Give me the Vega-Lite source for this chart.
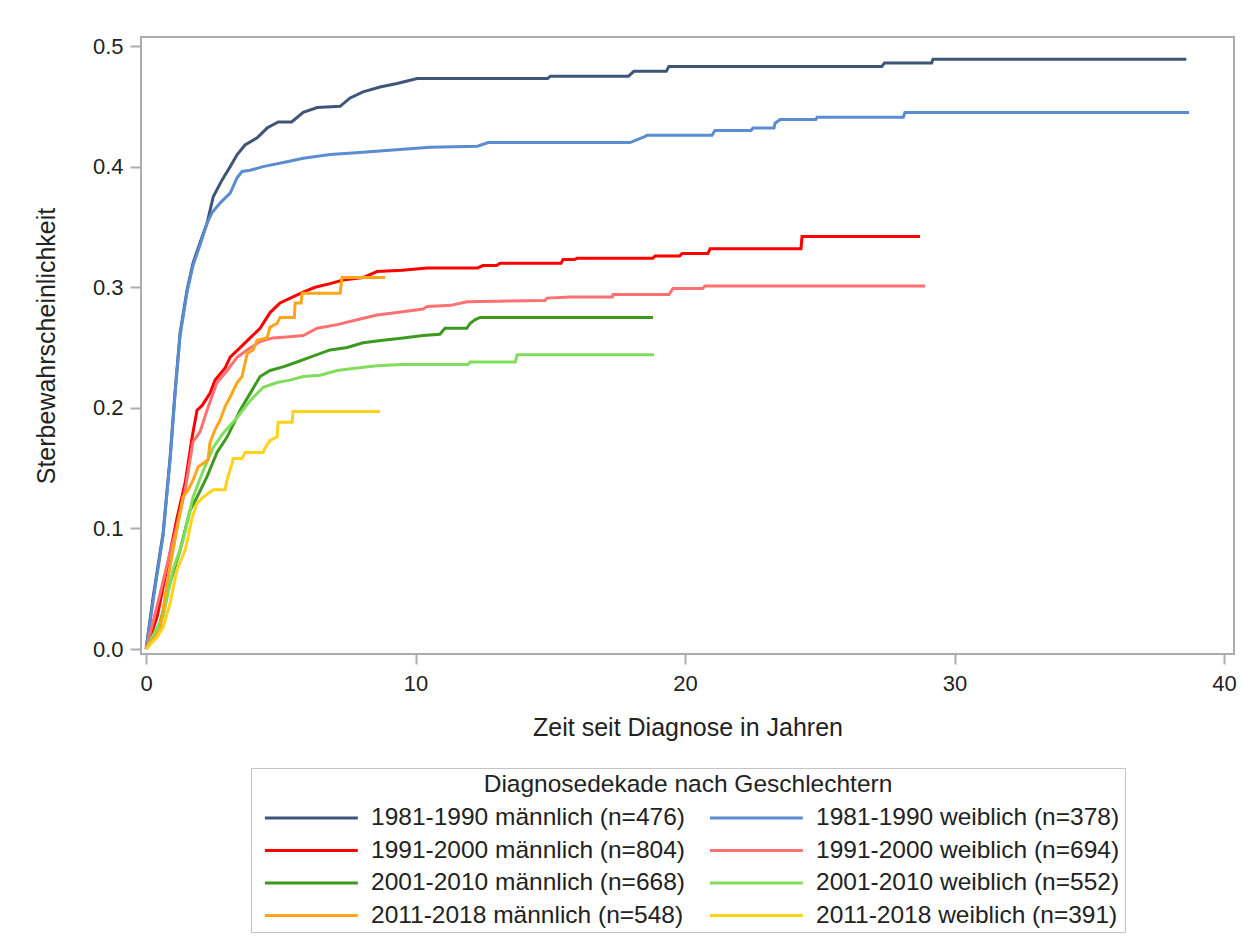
{
  "$schema": "https://vega.github.io/schema/vega-lite/v6.json",
  "autosize": {"type": "none"},
  "width": 1093,
  "height": 617,
  "padding": {"left": 141, "top": 37, "right": 14, "bottom": 286},
  "background": "white",
  "config": {
    "font": "Liberation Sans",
    "view": {"stroke": "#A9ADB2", "strokeWidth": 2},
    "legend": {"layout": {"bottom": {"anchor": "middle"}}}
  },
  "datasets": {
    "kurven": [
      {"g": "1981-1990 männlich (n=476)", "t": 0, "p": 0},
      {"g": "1981-1990 männlich (n=476)", "t": 0.26, "p": 0.043},
      {"g": "1981-1990 männlich (n=476)", "t": 0.63, "p": 0.096},
      {"g": "1981-1990 männlich (n=476)", "t": 0.89, "p": 0.159},
      {"g": "1981-1990 männlich (n=476)", "t": 1.08, "p": 0.215},
      {"g": "1981-1990 männlich (n=476)", "t": 1.26, "p": 0.262},
      {"g": "1981-1990 männlich (n=476)", "t": 1.52, "p": 0.298},
      {"g": "1981-1990 männlich (n=476)", "t": 1.74, "p": 0.32},
      {"g": "1981-1990 männlich (n=476)", "t": 2.0, "p": 0.337},
      {"g": "1981-1990 männlich (n=476)", "t": 2.26, "p": 0.353},
      {"g": "1981-1990 männlich (n=476)", "t": 2.49, "p": 0.375},
      {"g": "1981-1990 männlich (n=476)", "t": 2.82, "p": 0.389},
      {"g": "1981-1990 männlich (n=476)", "t": 3.12, "p": 0.4},
      {"g": "1981-1990 männlich (n=476)", "t": 3.38, "p": 0.41},
      {"g": "1981-1990 männlich (n=476)", "t": 3.67, "p": 0.418},
      {"g": "1981-1990 männlich (n=476)", "t": 4.12, "p": 0.424},
      {"g": "1981-1990 männlich (n=476)", "t": 4.49, "p": 0.432},
      {"g": "1981-1990 männlich (n=476)", "t": 4.9, "p": 0.437},
      {"g": "1981-1990 männlich (n=476)", "t": 5.4, "p": 0.437},
      {"g": "1981-1990 männlich (n=476)", "t": 5.83, "p": 0.445},
      {"g": "1981-1990 männlich (n=476)", "t": 6.35, "p": 0.449},
      {"g": "1981-1990 männlich (n=476)", "t": 7.2, "p": 0.45},
      {"g": "1981-1990 männlich (n=476)", "t": 7.57, "p": 0.457},
      {"g": "1981-1990 männlich (n=476)", "t": 8.05, "p": 0.462},
      {"g": "1981-1990 männlich (n=476)", "t": 8.68, "p": 0.466},
      {"g": "1981-1990 männlich (n=476)", "t": 9.31, "p": 0.469},
      {"g": "1981-1990 männlich (n=476)", "t": 10.06, "p": 0.473},
      {"g": "1981-1990 männlich (n=476)", "t": 14.9, "p": 0.473},
      {"g": "1981-1990 männlich (n=476)", "t": 15.0, "p": 0.475},
      {"g": "1981-1990 männlich (n=476)", "t": 17.9, "p": 0.475},
      {"g": "1981-1990 männlich (n=476)", "t": 18.1, "p": 0.479},
      {"g": "1981-1990 männlich (n=476)", "t": 19.3, "p": 0.479},
      {"g": "1981-1990 männlich (n=476)", "t": 19.4, "p": 0.483},
      {"g": "1981-1990 männlich (n=476)", "t": 27.3, "p": 0.483},
      {"g": "1981-1990 männlich (n=476)", "t": 27.4, "p": 0.486},
      {"g": "1981-1990 männlich (n=476)", "t": 29.15, "p": 0.486},
      {"g": "1981-1990 männlich (n=476)", "t": 29.2, "p": 0.489},
      {"g": "1981-1990 männlich (n=476)", "t": 38.6, "p": 0.489},

      {"g": "1981-1990 weiblich (n=378)", "t": 0, "p": 0},
      {"g": "1981-1990 weiblich (n=378)", "t": 0.26, "p": 0.04},
      {"g": "1981-1990 weiblich (n=378)", "t": 0.63, "p": 0.094},
      {"g": "1981-1990 weiblich (n=378)", "t": 0.89, "p": 0.157},
      {"g": "1981-1990 weiblich (n=378)", "t": 1.08, "p": 0.213},
      {"g": "1981-1990 weiblich (n=378)", "t": 1.26, "p": 0.26},
      {"g": "1981-1990 weiblich (n=378)", "t": 1.52, "p": 0.296},
      {"g": "1981-1990 weiblich (n=378)", "t": 1.74, "p": 0.318},
      {"g": "1981-1990 weiblich (n=378)", "t": 2.0, "p": 0.335},
      {"g": "1981-1990 weiblich (n=378)", "t": 2.26, "p": 0.353},
      {"g": "1981-1990 weiblich (n=378)", "t": 2.45, "p": 0.362},
      {"g": "1981-1990 weiblich (n=378)", "t": 2.75, "p": 0.37},
      {"g": "1981-1990 weiblich (n=378)", "t": 3.12, "p": 0.378},
      {"g": "1981-1990 weiblich (n=378)", "t": 3.38, "p": 0.391},
      {"g": "1981-1990 weiblich (n=378)", "t": 3.56, "p": 0.396},
      {"g": "1981-1990 weiblich (n=378)", "t": 3.86, "p": 0.397},
      {"g": "1981-1990 weiblich (n=378)", "t": 4.34, "p": 0.4},
      {"g": "1981-1990 weiblich (n=378)", "t": 5.23, "p": 0.404},
      {"g": "1981-1990 weiblich (n=378)", "t": 5.83, "p": 0.407},
      {"g": "1981-1990 weiblich (n=378)", "t": 6.83, "p": 0.41},
      {"g": "1981-1990 weiblich (n=378)", "t": 8.05, "p": 0.412},
      {"g": "1981-1990 weiblich (n=378)", "t": 9.91, "p": 0.415},
      {"g": "1981-1990 weiblich (n=378)", "t": 10.54, "p": 0.416},
      {"g": "1981-1990 weiblich (n=378)", "t": 12.3, "p": 0.417},
      {"g": "1981-1990 weiblich (n=378)", "t": 12.69, "p": 0.42},
      {"g": "1981-1990 weiblich (n=378)", "t": 17.96, "p": 0.42},
      {"g": "1981-1990 weiblich (n=378)", "t": 18.52, "p": 0.425},
      {"g": "1981-1990 weiblich (n=378)", "t": 18.59, "p": 0.426},
      {"g": "1981-1990 weiblich (n=378)", "t": 21.0, "p": 0.426},
      {"g": "1981-1990 weiblich (n=378)", "t": 21.11, "p": 0.43},
      {"g": "1981-1990 weiblich (n=378)", "t": 22.45, "p": 0.43},
      {"g": "1981-1990 weiblich (n=378)", "t": 22.52, "p": 0.432},
      {"g": "1981-1990 weiblich (n=378)", "t": 23.3, "p": 0.432},
      {"g": "1981-1990 weiblich (n=378)", "t": 23.34, "p": 0.436},
      {"g": "1981-1990 weiblich (n=378)", "t": 23.53, "p": 0.439},
      {"g": "1981-1990 weiblich (n=378)", "t": 24.85, "p": 0.439},
      {"g": "1981-1990 weiblich (n=378)", "t": 24.9, "p": 0.441},
      {"g": "1981-1990 weiblich (n=378)", "t": 28.1, "p": 0.441},
      {"g": "1981-1990 weiblich (n=378)", "t": 28.16, "p": 0.445},
      {"g": "1981-1990 weiblich (n=378)", "t": 38.7, "p": 0.445},

      {"g": "1991-2000 männlich (n=804)", "t": 0, "p": 0},
      {"g": "1991-2000 männlich (n=804)", "t": 0.41, "p": 0.027},
      {"g": "1991-2000 männlich (n=804)", "t": 0.78, "p": 0.068},
      {"g": "1991-2000 männlich (n=804)", "t": 1.15, "p": 0.109},
      {"g": "1991-2000 männlich (n=804)", "t": 1.45, "p": 0.138},
      {"g": "1991-2000 männlich (n=804)", "t": 1.71, "p": 0.176},
      {"g": "1991-2000 männlich (n=804)", "t": 1.89, "p": 0.198},
      {"g": "1991-2000 männlich (n=804)", "t": 2.08, "p": 0.202},
      {"g": "1991-2000 männlich (n=804)", "t": 2.37, "p": 0.212},
      {"g": "1991-2000 männlich (n=804)", "t": 2.56, "p": 0.223},
      {"g": "1991-2000 männlich (n=804)", "t": 2.93, "p": 0.233},
      {"g": "1991-2000 männlich (n=804)", "t": 3.12, "p": 0.242},
      {"g": "1991-2000 männlich (n=804)", "t": 3.49, "p": 0.25},
      {"g": "1991-2000 männlich (n=804)", "t": 3.86, "p": 0.258},
      {"g": "1991-2000 männlich (n=804)", "t": 4.23, "p": 0.266},
      {"g": "1991-2000 männlich (n=804)", "t": 4.6, "p": 0.279},
      {"g": "1991-2000 männlich (n=804)", "t": 4.97, "p": 0.287},
      {"g": "1991-2000 männlich (n=804)", "t": 5.45, "p": 0.292},
      {"g": "1991-2000 männlich (n=804)", "t": 5.83, "p": 0.296},
      {"g": "1991-2000 männlich (n=804)", "t": 6.27, "p": 0.3},
      {"g": "1991-2000 männlich (n=804)", "t": 6.83, "p": 0.303},
      {"g": "1991-2000 männlich (n=804)", "t": 7.31, "p": 0.306},
      {"g": "1991-2000 männlich (n=804)", "t": 8.05, "p": 0.308},
      {"g": "1991-2000 männlich (n=804)", "t": 8.57, "p": 0.313},
      {"g": "1991-2000 männlich (n=804)", "t": 9.5, "p": 0.314},
      {"g": "1991-2000 männlich (n=804)", "t": 10.43, "p": 0.316},
      {"g": "1991-2000 männlich (n=804)", "t": 12.3, "p": 0.316},
      {"g": "1991-2000 männlich (n=804)", "t": 12.5, "p": 0.318},
      {"g": "1991-2000 männlich (n=804)", "t": 13.0, "p": 0.318},
      {"g": "1991-2000 männlich (n=804)", "t": 13.14, "p": 0.32},
      {"g": "1991-2000 männlich (n=804)", "t": 15.4, "p": 0.32},
      {"g": "1991-2000 männlich (n=804)", "t": 15.47, "p": 0.323},
      {"g": "1991-2000 männlich (n=804)", "t": 15.9, "p": 0.323},
      {"g": "1991-2000 männlich (n=804)", "t": 15.99, "p": 0.324},
      {"g": "1991-2000 männlich (n=804)", "t": 18.8, "p": 0.324},
      {"g": "1991-2000 männlich (n=804)", "t": 18.89, "p": 0.326},
      {"g": "1991-2000 männlich (n=804)", "t": 19.8, "p": 0.326},
      {"g": "1991-2000 männlich (n=804)", "t": 19.89, "p": 0.328},
      {"g": "1991-2000 männlich (n=804)", "t": 20.85, "p": 0.328},
      {"g": "1991-2000 männlich (n=804)", "t": 20.93, "p": 0.332},
      {"g": "1991-2000 männlich (n=804)", "t": 24.3, "p": 0.332},
      {"g": "1991-2000 männlich (n=804)", "t": 24.34, "p": 0.342},
      {"g": "1991-2000 männlich (n=804)", "t": 28.72, "p": 0.342},

      {"g": "1991-2000 weiblich (n=694)", "t": 0, "p": 0},
      {"g": "1991-2000 weiblich (n=694)", "t": 0.41, "p": 0.036},
      {"g": "1991-2000 weiblich (n=694)", "t": 0.78, "p": 0.07},
      {"g": "1991-2000 weiblich (n=694)", "t": 1.15, "p": 0.103},
      {"g": "1991-2000 weiblich (n=694)", "t": 1.45, "p": 0.132},
      {"g": "1991-2000 weiblich (n=694)", "t": 1.74, "p": 0.172},
      {"g": "1991-2000 weiblich (n=694)", "t": 2.0, "p": 0.18},
      {"g": "1991-2000 weiblich (n=694)", "t": 2.26, "p": 0.198},
      {"g": "1991-2000 weiblich (n=694)", "t": 2.63, "p": 0.221},
      {"g": "1991-2000 weiblich (n=694)", "t": 3.01, "p": 0.231},
      {"g": "1991-2000 weiblich (n=694)", "t": 3.38, "p": 0.242},
      {"g": "1991-2000 weiblich (n=694)", "t": 3.75, "p": 0.248},
      {"g": "1991-2000 weiblich (n=694)", "t": 4.23, "p": 0.255},
      {"g": "1991-2000 weiblich (n=694)", "t": 4.71, "p": 0.258},
      {"g": "1991-2000 weiblich (n=694)", "t": 5.34, "p": 0.259},
      {"g": "1991-2000 weiblich (n=694)", "t": 5.83, "p": 0.26},
      {"g": "1991-2000 weiblich (n=694)", "t": 6.35, "p": 0.266},
      {"g": "1991-2000 weiblich (n=694)", "t": 7.09, "p": 0.269},
      {"g": "1991-2000 weiblich (n=694)", "t": 7.83, "p": 0.273},
      {"g": "1991-2000 weiblich (n=694)", "t": 8.57, "p": 0.277},
      {"g": "1991-2000 weiblich (n=694)", "t": 9.31, "p": 0.279},
      {"g": "1991-2000 weiblich (n=694)", "t": 10.28, "p": 0.282},
      {"g": "1991-2000 weiblich (n=694)", "t": 10.43, "p": 0.284},
      {"g": "1991-2000 weiblich (n=694)", "t": 11.3, "p": 0.285},
      {"g": "1991-2000 weiblich (n=694)", "t": 11.91, "p": 0.288},
      {"g": "1991-2000 weiblich (n=694)", "t": 14.8, "p": 0.289},
      {"g": "1991-2000 weiblich (n=694)", "t": 14.88, "p": 0.291},
      {"g": "1991-2000 weiblich (n=694)", "t": 15.73, "p": 0.292},
      {"g": "1991-2000 weiblich (n=694)", "t": 17.3, "p": 0.292},
      {"g": "1991-2000 weiblich (n=694)", "t": 17.33, "p": 0.294},
      {"g": "1991-2000 weiblich (n=694)", "t": 19.4, "p": 0.294},
      {"g": "1991-2000 weiblich (n=694)", "t": 19.55, "p": 0.299},
      {"g": "1991-2000 weiblich (n=694)", "t": 20.65, "p": 0.299},
      {"g": "1991-2000 weiblich (n=694)", "t": 20.74, "p": 0.301},
      {"g": "1991-2000 weiblich (n=694)", "t": 28.91, "p": 0.301},

      {"g": "2001-2010 männlich (n=668)", "t": 0, "p": 0},
      {"g": "2001-2010 männlich (n=668)", "t": 0.52, "p": 0.022},
      {"g": "2001-2010 männlich (n=668)", "t": 0.89, "p": 0.055},
      {"g": "2001-2010 männlich (n=668)", "t": 1.26, "p": 0.082},
      {"g": "2001-2010 männlich (n=668)", "t": 1.63, "p": 0.115},
      {"g": "2001-2010 männlich (n=668)", "t": 1.89, "p": 0.126},
      {"g": "2001-2010 männlich (n=668)", "t": 2.26, "p": 0.143},
      {"g": "2001-2010 männlich (n=668)", "t": 2.63, "p": 0.163},
      {"g": "2001-2010 männlich (n=668)", "t": 3.01, "p": 0.176},
      {"g": "2001-2010 männlich (n=668)", "t": 3.49, "p": 0.198},
      {"g": "2001-2010 männlich (n=668)", "t": 3.86, "p": 0.212},
      {"g": "2001-2010 männlich (n=668)", "t": 4.23, "p": 0.226},
      {"g": "2001-2010 männlich (n=668)", "t": 4.6, "p": 0.231},
      {"g": "2001-2010 männlich (n=668)", "t": 5.08, "p": 0.234},
      {"g": "2001-2010 männlich (n=668)", "t": 5.6, "p": 0.238},
      {"g": "2001-2010 männlich (n=668)", "t": 6.09, "p": 0.242},
      {"g": "2001-2010 männlich (n=668)", "t": 6.83, "p": 0.248},
      {"g": "2001-2010 männlich (n=668)", "t": 7.46, "p": 0.25},
      {"g": "2001-2010 männlich (n=668)", "t": 8.05, "p": 0.254},
      {"g": "2001-2010 männlich (n=668)", "t": 8.79, "p": 0.256},
      {"g": "2001-2010 männlich (n=668)", "t": 9.54, "p": 0.258},
      {"g": "2001-2010 männlich (n=668)", "t": 10.28, "p": 0.26},
      {"g": "2001-2010 männlich (n=668)", "t": 10.9, "p": 0.261},
      {"g": "2001-2010 männlich (n=668)", "t": 11.09, "p": 0.266},
      {"g": "2001-2010 männlich (n=668)", "t": 11.9, "p": 0.266},
      {"g": "2001-2010 männlich (n=668)", "t": 12.02, "p": 0.27},
      {"g": "2001-2010 männlich (n=668)", "t": 12.2, "p": 0.273},
      {"g": "2001-2010 männlich (n=668)", "t": 12.39, "p": 0.275},
      {"g": "2001-2010 männlich (n=668)", "t": 18.81, "p": 0.275},

      {"g": "2001-2010 weiblich (n=552)", "t": 0, "p": 0},
      {"g": "2001-2010 weiblich (n=552)", "t": 0.63, "p": 0.027},
      {"g": "2001-2010 weiblich (n=552)", "t": 1.0, "p": 0.066},
      {"g": "2001-2010 weiblich (n=552)", "t": 1.37, "p": 0.09},
      {"g": "2001-2010 weiblich (n=552)", "t": 1.74, "p": 0.126},
      {"g": "2001-2010 weiblich (n=552)", "t": 2.12, "p": 0.148},
      {"g": "2001-2010 weiblich (n=552)", "t": 2.49, "p": 0.167},
      {"g": "2001-2010 weiblich (n=552)", "t": 2.86, "p": 0.179},
      {"g": "2001-2010 weiblich (n=552)", "t": 3.38, "p": 0.192},
      {"g": "2001-2010 weiblich (n=552)", "t": 3.86, "p": 0.206},
      {"g": "2001-2010 weiblich (n=552)", "t": 4.34, "p": 0.217},
      {"g": "2001-2010 weiblich (n=552)", "t": 4.86, "p": 0.221},
      {"g": "2001-2010 weiblich (n=552)", "t": 5.34, "p": 0.223},
      {"g": "2001-2010 weiblich (n=552)", "t": 5.83, "p": 0.226},
      {"g": "2001-2010 weiblich (n=552)", "t": 6.46, "p": 0.227},
      {"g": "2001-2010 weiblich (n=552)", "t": 7.09, "p": 0.231},
      {"g": "2001-2010 weiblich (n=552)", "t": 7.83, "p": 0.233},
      {"g": "2001-2010 weiblich (n=552)", "t": 8.57, "p": 0.235},
      {"g": "2001-2010 weiblich (n=552)", "t": 9.5, "p": 0.236},
      {"g": "2001-2010 weiblich (n=552)", "t": 11.95, "p": 0.236},
      {"g": "2001-2010 weiblich (n=552)", "t": 12.02, "p": 0.238},
      {"g": "2001-2010 weiblich (n=552)", "t": 13.7, "p": 0.238},
      {"g": "2001-2010 weiblich (n=552)", "t": 13.77, "p": 0.244},
      {"g": "2001-2010 weiblich (n=552)", "t": 18.85, "p": 0.244},

      {"g": "2011-2018 männlich (n=548)", "t": 0, "p": 0},
      {"g": "2011-2018 männlich (n=548)", "t": 0.52, "p": 0.016},
      {"g": "2011-2018 männlich (n=548)", "t": 0.78, "p": 0.055},
      {"g": "2011-2018 männlich (n=548)", "t": 1.0, "p": 0.082},
      {"g": "2011-2018 männlich (n=548)", "t": 1.37, "p": 0.126},
      {"g": "2011-2018 männlich (n=548)", "t": 1.56, "p": 0.132},
      {"g": "2011-2018 männlich (n=548)", "t": 1.74, "p": 0.14},
      {"g": "2011-2018 männlich (n=548)", "t": 1.93, "p": 0.151},
      {"g": "2011-2018 männlich (n=548)", "t": 2.3, "p": 0.157},
      {"g": "2011-2018 männlich (n=548)", "t": 2.37, "p": 0.171},
      {"g": "2011-2018 männlich (n=548)", "t": 2.56, "p": 0.182},
      {"g": "2011-2018 männlich (n=548)", "t": 2.75, "p": 0.19},
      {"g": "2011-2018 männlich (n=548)", "t": 2.93, "p": 0.201},
      {"g": "2011-2018 männlich (n=548)", "t": 3.12, "p": 0.209},
      {"g": "2011-2018 männlich (n=548)", "t": 3.38, "p": 0.221},
      {"g": "2011-2018 männlich (n=548)", "t": 3.56, "p": 0.226},
      {"g": "2011-2018 männlich (n=548)", "t": 3.67, "p": 0.237},
      {"g": "2011-2018 männlich (n=548)", "t": 3.75, "p": 0.245},
      {"g": "2011-2018 männlich (n=548)", "t": 3.97, "p": 0.248},
      {"g": "2011-2018 männlich (n=548)", "t": 4.12, "p": 0.256},
      {"g": "2011-2018 männlich (n=548)", "t": 4.49, "p": 0.258},
      {"g": "2011-2018 männlich (n=548)", "t": 4.6, "p": 0.267},
      {"g": "2011-2018 männlich (n=548)", "t": 4.86, "p": 0.27},
      {"g": "2011-2018 männlich (n=548)", "t": 4.97, "p": 0.275},
      {"g": "2011-2018 männlich (n=548)", "t": 5.5, "p": 0.275},
      {"g": "2011-2018 männlich (n=548)", "t": 5.53, "p": 0.287},
      {"g": "2011-2018 männlich (n=548)", "t": 5.75, "p": 0.287},
      {"g": "2011-2018 männlich (n=548)", "t": 5.79, "p": 0.295},
      {"g": "2011-2018 männlich (n=548)", "t": 7.2, "p": 0.295},
      {"g": "2011-2018 männlich (n=548)", "t": 7.27, "p": 0.308},
      {"g": "2011-2018 männlich (n=548)", "t": 8.87, "p": 0.308},

      {"g": "2011-2018 weiblich (n=391)", "t": 0, "p": 0},
      {"g": "2011-2018 weiblich (n=391)", "t": 0.41, "p": 0.01},
      {"g": "2011-2018 weiblich (n=391)", "t": 0.63, "p": 0.018},
      {"g": "2011-2018 weiblich (n=391)", "t": 0.89, "p": 0.038},
      {"g": "2011-2018 weiblich (n=391)", "t": 1.15, "p": 0.066},
      {"g": "2011-2018 weiblich (n=391)", "t": 1.45, "p": 0.082},
      {"g": "2011-2018 weiblich (n=391)", "t": 1.71, "p": 0.109},
      {"g": "2011-2018 weiblich (n=391)", "t": 1.89, "p": 0.121},
      {"g": "2011-2018 weiblich (n=391)", "t": 2.12, "p": 0.126},
      {"g": "2011-2018 weiblich (n=391)", "t": 2.49, "p": 0.132},
      {"g": "2011-2018 weiblich (n=391)", "t": 2.93, "p": 0.132},
      {"g": "2011-2018 weiblich (n=391)", "t": 3.0, "p": 0.14},
      {"g": "2011-2018 weiblich (n=391)", "t": 3.19, "p": 0.154},
      {"g": "2011-2018 weiblich (n=391)", "t": 3.23, "p": 0.158},
      {"g": "2011-2018 weiblich (n=391)", "t": 3.56, "p": 0.158},
      {"g": "2011-2018 weiblich (n=391)", "t": 3.67, "p": 0.163},
      {"g": "2011-2018 weiblich (n=391)", "t": 4.34, "p": 0.163},
      {"g": "2011-2018 weiblich (n=391)", "t": 4.42, "p": 0.167},
      {"g": "2011-2018 weiblich (n=391)", "t": 4.6, "p": 0.173},
      {"g": "2011-2018 weiblich (n=391)", "t": 4.86, "p": 0.176},
      {"g": "2011-2018 weiblich (n=391)", "t": 4.9, "p": 0.188},
      {"g": "2011-2018 weiblich (n=391)", "t": 5.42, "p": 0.188},
      {"g": "2011-2018 weiblich (n=391)", "t": 5.45, "p": 0.197},
      {"g": "2011-2018 weiblich (n=391)", "t": 8.68, "p": 0.197}
    ]
  },
  "data": {"name": "kurven"},
  "mark": {"type": "line", "interpolate": "linear", "strokeWidth": 3},
  "encoding": {
    "x": {
      "field": "t",
      "type": "quantitative",
      "title": "Zeit seit Diagnose in Jahren",
      "scale": {"domain": [-0.19, 40.37], "nice": false, "zero": false},
      "axis": {
        "values": [0, 10, 20, 30, 40],
        "format": "d",
        "grid": false,
        "domain": false,
        "tickColor": "#A9ADB2",
        "tickWidth": 2,
        "tickSize": 10,
        "labelPadding": 9,
        "labelFontSize": 22,
        "labelColor": "#222222",
        "titleFontSize": 25,
        "titleFontWeight": "normal",
        "titleColor": "#222222",
        "titlePadding": 21
      }
    },
    "y": {
      "field": "p",
      "type": "quantitative",
      "title": "Sterbewahrscheinlichkeit",
      "scale": {"domain": [-0.0041, 0.5075], "nice": false, "zero": false},
      "axis": {
        "values": [0, 0.1, 0.2, 0.3, 0.4, 0.5],
        "format": ".1f",
        "grid": false,
        "domain": false,
        "tickColor": "#A9ADB2",
        "tickWidth": 2,
        "tickSize": 11,
        "labelPadding": 7,
        "labelFontSize": 22,
        "labelColor": "#222222",
        "titleFontSize": 25,
        "titleFontWeight": "normal",
        "titleColor": "#222222",
        "titlePadding": 33
      }
    },
    "color": {
      "field": "g",
      "type": "nominal",
      "title": "Diagnosedekade nach Geschlechtern",
      "scale": {
        "domain": [
          "1981-1990 männlich (n=476)", "1981-1990 weiblich (n=378)",
          "1991-2000 männlich (n=804)", "1991-2000 weiblich (n=694)",
          "2001-2010 männlich (n=668)", "2001-2010 weiblich (n=552)",
          "2011-2018 männlich (n=548)", "2011-2018 weiblich (n=391)"
        ],
        "range": ["#3F5578", "#5A8CD2", "#FF0000", "#FF7070", "#3C9A1E", "#80DE5C", "#FFA51A", "#FFD21A"]
      },
      "legend": {
        "orient": "bottom",
        "direction": "horizontal",
        "columns": 2,
        "gridAlign": "all",
        "offset": 28,
        "symbolType": "M-1,0H7",
        "symbolSize": 540,
        "symbolStrokeWidth": 3,
        "symbolOffset": 7,
        "labelFontSize": 24.5,
        "labelColor": "#222222",
        "labelOffset": 81,
        "labelLimit": 500,
        "columnPadding": 16,
        "rowPadding": 7.5,
        "titleFontSize": 24.5,
        "titleFontWeight": "normal",
        "titleColor": "#222222",
        "titleAnchor": "middle",
        "titleLimit": 800,
        "titlePadding": 7,
        "padding": 5,
        "strokeColor": "#C4C4C4",
        "fillColor": "white"
      }
    }
  }
}
